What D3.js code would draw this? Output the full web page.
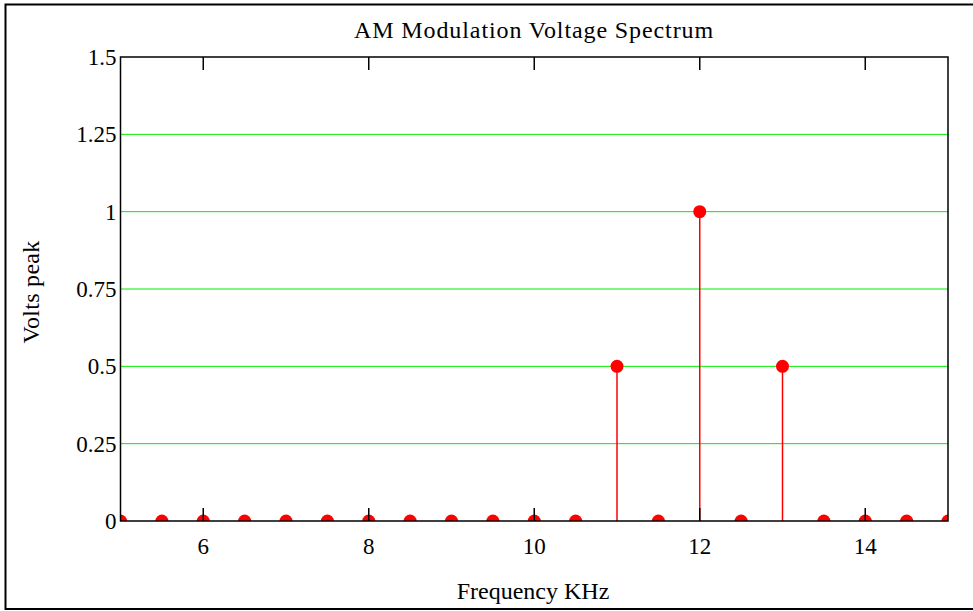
<!DOCTYPE html>
<html>
<head>
<meta charset="utf-8">
<script src="https://cdn.jsdelivr.net/npm/d3@7"></script>
<style>
  body { margin: 0; background: #fff; }
  text { font-family: "Liberation Serif", "Times New Roman", serif; fill: #000; }
</style>
</head>
<body>
<div id="chart"></div>
<script>
// spectrum lines (KHz) and peak volts
var freqs = [5, 5.5, 6, 6.5, 7, 7.5, 8, 8.5, 9, 9.5, 10, 10.5, 11, 11.5, 12, 12.5, 13, 13.5, 14, 14.5, 15];
var volts = [0, 0, 0, 0, 0, 0, 0, 0, 0, 0, 0, 0, 0.5, 0, 1, 0, 0.5, 0, 0, 0, 0];
var xTicks = [6, 8, 10, 12, 14];
var yTicks = [0, 0.25, 0.5, 0.75, 1, 1.25, 1.5];

var width = 973, height = 611;
var pLeft = 120.5, pRight = 948, pTop = 57, pBottom = 521;

var svg = d3.select('#chart').append('svg')
  .attr('width', width)
  .attr('height', height);

// outer frame
svg.append('path')
  .attr('d', 'M' + (width + 5) + ',4.5 H5.5 V609 H' + (width + 5))
  .attr('fill', 'none')
  .attr('stroke', '#000')
  .attr('stroke-width', 2);

var x = d3.scaleLinear().domain([5, 15]).range([pLeft, pRight]);
var y = d3.scaleLinear().domain([0, 1.5]).range([pBottom, pTop]);

// grid
svg.append('g').selectAll('line').data(yTicks.filter(function(d) { return d > 0 && d < 1.5; }))
  .enter().append('line')
  .attr('x1', pLeft).attr('x2', pRight)
  .attr('y1', function(d) { return y(d); })
  .attr('y2', function(d) { return y(d); })
  .attr('stroke', '#00ee00')
  .attr('stroke-width', 1);

svg.append('defs').append('clipPath').attr('id', 'plot')
  .append('rect')
  .attr('x', pLeft).attr('y', pTop)
  .attr('width', pRight - pLeft).attr('height', pBottom - pTop);

var pts = freqs.map(function(f, i) { return {f: f, v: volts[i]}; });

var marks = svg.append('g').attr('clip-path', 'url(#plot)');
marks.selectAll('line').data(pts.filter(function(d) { return d.v > 0; }))
  .enter().append('line')
  .attr('x1', function(d) { return x(d.f); })
  .attr('x2', function(d) { return x(d.f); })
  .attr('y1', y(0))
  .attr('y2', function(d) { return y(d.v); })
  .attr('stroke', '#ff0000')
  .attr('stroke-width', 1.5);

// frame of the plot
svg.append('rect')
  .attr('x', pLeft).attr('y', pTop)
  .attr('width', pRight - pLeft).attr('height', pBottom - pTop)
  .attr('fill', 'none')
  .attr('stroke', '#000')
  .attr('stroke-width', 1.5);

// ticks bottom and top, pointing inward
var tk = svg.append('g');
xTicks.forEach(function(t) {
  tk.append('line').attr('x1', x(t)).attr('x2', x(t)).attr('y1', pBottom).attr('y2', pBottom - 13)
    .attr('stroke', '#000').attr('stroke-width', 1.5);
  tk.append('line').attr('x1', x(t)).attr('x2', x(t)).attr('y1', pTop).attr('y2', pTop + 13)
    .attr('stroke', '#000').attr('stroke-width', 1.5);
});

marks.selectAll('circle').data(pts)
  .enter().append('circle')
  .attr('cx', function(d) { return x(d.f); })
  .attr('cy', function(d) { return y(d.v); })
  .attr('r', 6.5)
  .attr('fill', '#ff0000');

// labels
svg.append('g').selectAll('text').data(xTicks)
  .enter().append('text')
  .attr('x', function(d) { return x(d); })
  .attr('y', 554)
  .attr('text-anchor', 'middle')
  .attr('font-size', 23)
  .text(function(d) { return d; });

svg.append('g').selectAll('text').data(yTicks)
  .enter().append('text')
  .attr('x', 116.5)
  .attr('y', function(d) { return y(d) + 8; })
  .attr('text-anchor', 'end')
  .attr('font-size', 23)
  .text(function(d) { return d; });

svg.append('text')
  .attr('x', 534).attr('y', 38)
  .attr('text-anchor', 'middle')
  .attr('font-size', 24)
  .attr('letter-spacing', 0.9)
  .text('AM Modulation Voltage Spectrum');

svg.append('text')
  .attr('x', 533).attr('y', 599)
  .attr('text-anchor', 'middle')
  .attr('font-size', 24)
  .text('Frequency KHz');

svg.append('text')
  .attr('transform', 'translate(39,292) rotate(-90)')
  .attr('text-anchor', 'middle')
  .attr('font-size', 24)
  .attr('letter-spacing', 0.3)
  .text('Volts peak');
</script>
</body>
</html>
